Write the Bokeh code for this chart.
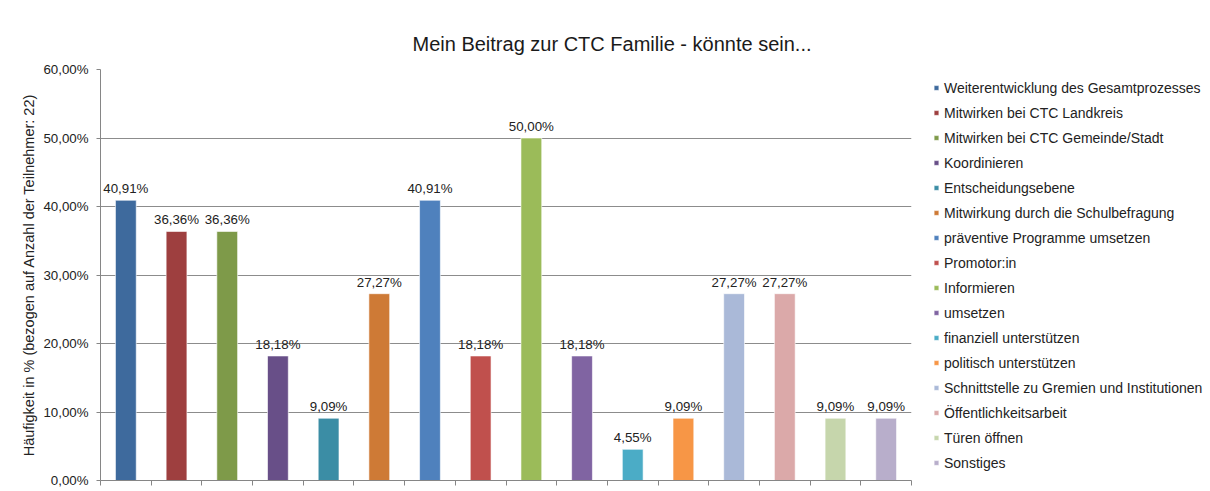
from bokeh.plotting import figure
from bokeh.models import (ColumnDataSource, Range1d, FixedTicker, CustomJSTickFormatter,
                          Legend, LegendItem, Title)
from bokeh.core.properties import value
from bokeh.embed import file_html
from bokeh.resources import INLINE

categories = [
    "Weiterentwicklung des Gesamtprozesses",
    "Mitwirken bei CTC Landkreis",
    "Mitwirken bei CTC Gemeinde/Stadt",
    "Koordinieren",
    "Entscheidungsebene",
    "Mitwirkung durch die Schulbefragung",
    "präventive Programme umsetzen",
    "Promotor:in",
    "Informieren",
    "umsetzen",
    "finanziell unterstützen",
    "politisch unterstützen",
    "Schnittstelle zu Gremien und Institutionen",
    "Öffentlichkeitsarbeit",
    "Türen öffnen",
    "Sonstiges",
]
values = [40.91, 36.36, 36.36, 18.18, 9.09, 27.27, 40.91, 18.18,
          50.00, 18.18, 4.55, 9.09, 27.27, 27.27, 9.09, 9.09]
colors = ["#3E6A9D", "#9E3F3F", "#7E9A49", "#684F88", "#3B8DA5", "#CE7A36",
          "#4F81BD", "#C0504D", "#9BBB59", "#8064A2", "#4BACC6", "#F79646",
          "#AAB9D8", "#DBA9A9", "#C6D6AC", "#B8AECB"]
y_ticks = [0, 10, 20, 30, 40, 50, 60]

title_text = "Mein Beitrag zur CTC Familie - könnte sein..."
y_label = "Häufigkeit in % (bezogen auf Anzahl der Teilnehmer: 22)"

FONT = "Liberation Sans"

p = figure(frame_width=811, frame_height=411, output_backend="svg", toolbar_location=None,
           x_range=Range1d(0, len(categories)), y_range=Range1d(0, 60),
           min_border_left=100, min_border_right=10, min_border_top=69,
           min_border_bottom=11)
p.outline_line_color = None
p.background_fill_color = "white"
p.border_fill_color = "white"

xs = [i + 0.5 for i in range(len(categories))]
labels = [f"{v:.2f}".replace(".", ",") + "%" for v in values]
src = ColumnDataSource(dict(x=xs, top=values, lab=labels))

items = []
for i in range(len(categories)):
    r = p.vbar(x=xs[i], top=values[i], width=0.41, bottom=0,
               fill_color=colors[i], line_color="white", line_alpha=0.6, line_width=1)
    items.append(LegendItem(label=categories[i], renderers=[r]))

p.text(x="x", y="top", text="lab", source=src, text_align="center",
       text_baseline="bottom", y_offset=-4, text_font=value(FONT),
       text_font_size="13.3px", text_color="#222222")

# axes
p.xaxis.ticker = FixedTicker(ticks=list(range(len(categories) + 1)))
p.xaxis.formatter = CustomJSTickFormatter(code="return '';")
p.xaxis.major_tick_out = 5
p.xaxis.major_tick_in = 0
p.xaxis.minor_tick_line_color = None
p.xaxis.major_label_standoff = 0
p.xaxis.major_label_text_font_size = "1px"
p.xaxis.axis_line_color = "#868686"
p.xaxis.major_tick_line_color = "#868686"

p.yaxis.ticker = FixedTicker(ticks=y_ticks)
p.yaxis.formatter = CustomJSTickFormatter(code="return tick.toFixed(2).replace('.', ',') + '%';")
p.yaxis.major_tick_out = 4
p.yaxis.major_tick_in = 0
p.yaxis.minor_tick_line_color = None
p.yaxis.major_label_standoff = 8
p.yaxis.major_label_text_font = FONT
p.yaxis.major_label_text_font_size = "13.3px"
p.yaxis.major_label_text_color = "#222222"
p.yaxis.axis_line_color = "#868686"
p.yaxis.major_tick_line_color = "#868686"
p.yaxis.axis_label = y_label
p.yaxis.axis_label_text_font = FONT
p.yaxis.axis_label_text_font_style = "normal"
p.yaxis.axis_label_text_font_size = "14.5px"
p.yaxis.axis_label_text_color = "#222222"
p.yaxis.axis_label_standoff = 3

p.xgrid.grid_line_color = None
p.ygrid.ticker = FixedTicker(ticks=y_ticks)
p.ygrid.grid_line_color = "#8c8c8c"
p.ygrid.grid_line_width = 1

legend = Legend(items=items, location="center_left",
                label_text_font=FONT, label_text_font_size="14px",
                label_text_color="#222222",
                glyph_width=6, glyph_height=6, label_height=20, spacing=5,
                label_standoff=5, padding=10, margin=22,
                border_line_color=None, background_fill_alpha=0)
p.add_layout(legend, "right")

p.add_layout(Title(text=title_text, align="left", offset=312, standoff=29,
                   text_font=FONT, text_font_size="20px", text_font_style="normal",
                   text_color="#1a1a1a"), "above")

open("out.html", "w").write(file_html(p, INLINE))
